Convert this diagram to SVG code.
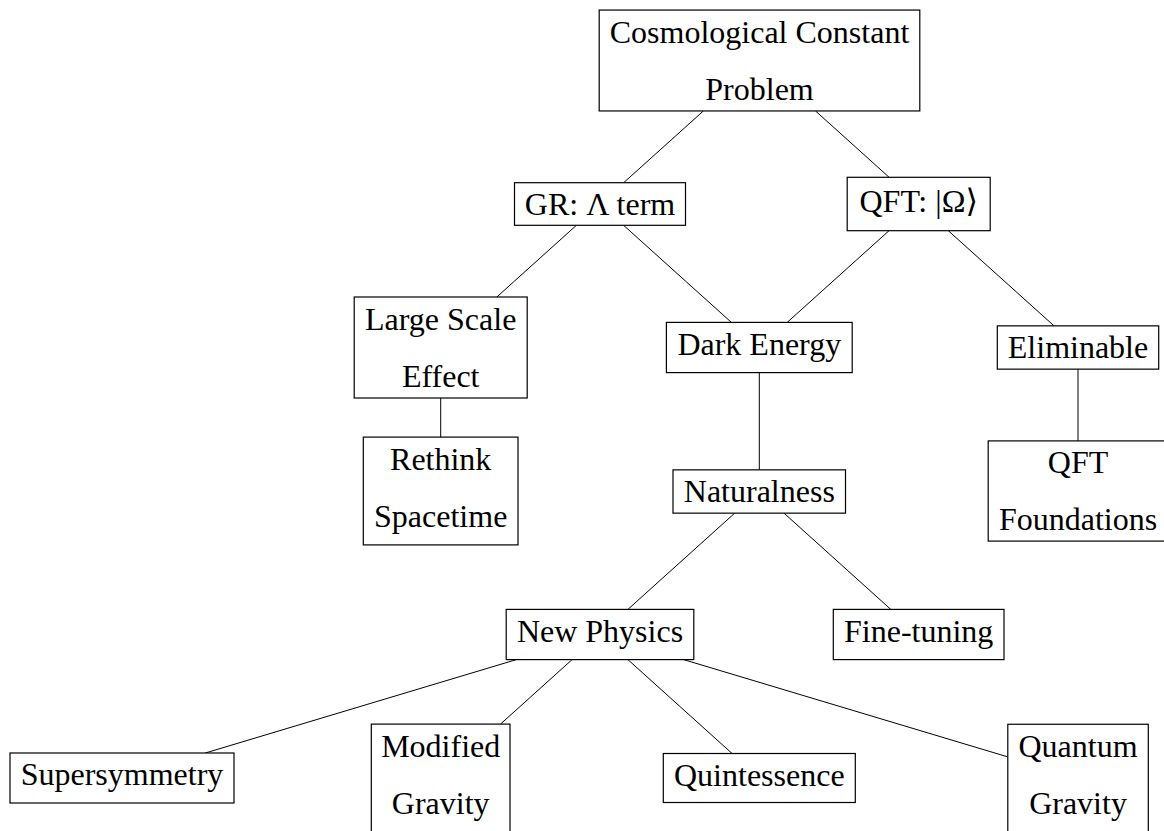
<svg xmlns="http://www.w3.org/2000/svg" width="1164" height="831" viewBox="0 0 1164 831">
<style>
  .box { fill: #ffffff; stroke: #000000; stroke-width: 1.2; }
  .lbl { font-family: "Liberation Serif", "Times New Roman", "DejaVu Sans", serif; font-size: 32px; fill: #000000; text-anchor: middle; }
  .edge { stroke: #000000; stroke-width: 1; fill: none; }
</style>
<rect x="0" y="0" width="1164" height="831" fill="#ffffff"/>
<g id="connectors">
  <line class="edge" x1="703.4" y1="110.95" x2="623.7" y2="182.7"/>
  <line class="edge" x1="815.5" y1="110.95" x2="889.1" y2="177.3"/>
  <line class="edge" x1="576.4" y1="225.3" x2="496.8" y2="297"/>
  <line class="edge" x1="623.6" y1="225.3" x2="731.4" y2="322.4"/>
  <line class="edge" x1="889.0" y1="230.7" x2="787.2" y2="322.4"/>
  <line class="edge" x1="948.3" y1="230.7" x2="1054" y2="325.85"/>
  <line class="edge" x1="440.7" y1="398" x2="440.7" y2="437.1"/>
  <line class="edge" x1="759.3" y1="372.6" x2="759.3" y2="469.85"/>
  <line class="edge" x1="1078" y1="369.15" x2="1078" y2="440.9"/>
  <line class="edge" x1="734.7" y1="513.15" x2="627.9" y2="609.4"/>
  <line class="edge" x1="784" y1="513.15" x2="890.8" y2="609.4"/>
  <line class="edge" x1="516.4" y1="659.6" x2="205.3" y2="753"/>
  <line class="edge" x1="572.1" y1="659.6" x2="500.5" y2="724.1"/>
  <line class="edge" x1="627.9" y1="659.6" x2="732.1" y2="753.5"/>
  <line class="edge" x1="683.6" y1="659.6" x2="1007.8" y2="756.9"/>
</g>
<g id="node-ccp">
  <rect class="box" x="599.2" y="10.05" width="320.6" height="100.9"/>
  <text class="lbl" x="759.5" y="42.65">Cosmological Constant</text>
  <text class="lbl" x="759.5" y="100.25">Problem</text>
</g>
<g id="node-gr">
  <rect class="box" x="514.5" y="182.7" width="171" height="42.6"/>
  <text class="lbl" x="600" y="214.6">GR: Λ term</text>
</g>
<g id="node-qft">
  <rect class="box" x="847.2" y="177.3" width="143" height="53.4"/>
  <text class="lbl" x="918.7" y="212">QFT: |Ω⟩</text>
</g>
<g id="node-large-scale">
  <rect class="box" x="354.2" y="297" width="173" height="101"/>
  <text class="lbl" x="440.7" y="329.6">Large Scale</text>
  <text class="lbl" x="440.7" y="387.2">Effect</text>
</g>
<g id="node-dark-energy">
  <rect class="box" x="666.4" y="322.4" width="185.8" height="50.2"/>
  <text class="lbl" x="759.3" y="355">Dark Energy</text>
</g>
<g id="node-eliminable">
  <rect class="box" x="997.3" y="325.85" width="161.4" height="43.3"/>
  <text class="lbl" x="1078" y="358.45">Eliminable</text>
</g>
<g id="node-rethink">
  <rect class="box" x="363.3" y="437.1" width="154.7" height="107.8"/>
  <text class="lbl" x="440.7" y="469.7">Rethink</text>
  <text class="lbl" x="440.7" y="527.3">Spacetime</text>
</g>
<g id="node-naturalness">
  <rect class="box" x="673" y="469.85" width="172.5" height="43.3"/>
  <text class="lbl" x="759.3" y="501.95">Naturalness</text>
</g>
<g id="node-qft-foundations">
  <rect class="box" x="988.2" y="440.9" width="179.6" height="100.2"/>
  <text class="lbl" x="1078" y="472.8">QFT</text>
  <text class="lbl" x="1078" y="530.4">Foundations</text>
</g>
<g id="node-new-physics">
  <rect class="box" x="506.2" y="609.4" width="187.6" height="50.2"/>
  <text class="lbl" x="600" y="642">New Physics</text>
</g>
<g id="node-fine-tuning">
  <rect class="box" x="833.3" y="609.4" width="170.7" height="50.2"/>
  <text class="lbl" x="918.7" y="642">Fine-tuning</text>
</g>
<g id="node-supersymmetry">
  <rect class="box" x="10" y="753" width="224" height="50"/>
  <text class="lbl" x="122" y="785.4">Supersymmetry</text>
</g>
<g id="node-modified-gravity">
  <rect class="box" x="371.3" y="724.1" width="138.7" height="107.8"/>
  <text class="lbl" x="440.7" y="756.7">Modified</text>
  <text class="lbl" x="440.7" y="814.3">Gravity</text>
</g>
<g id="node-quintessence">
  <rect class="box" x="663.3" y="753.5" width="192" height="49"/>
  <text class="lbl" x="759.3" y="786.1">Quintessence</text>
</g>
<g id="node-quantum-gravity">
  <rect class="box" x="1007.8" y="724.25" width="140.5" height="107.5"/>
  <text class="lbl" x="1078" y="756.6">Quantum</text>
  <text class="lbl" x="1078" y="814.2">Gravity</text>
</g>
</svg>
